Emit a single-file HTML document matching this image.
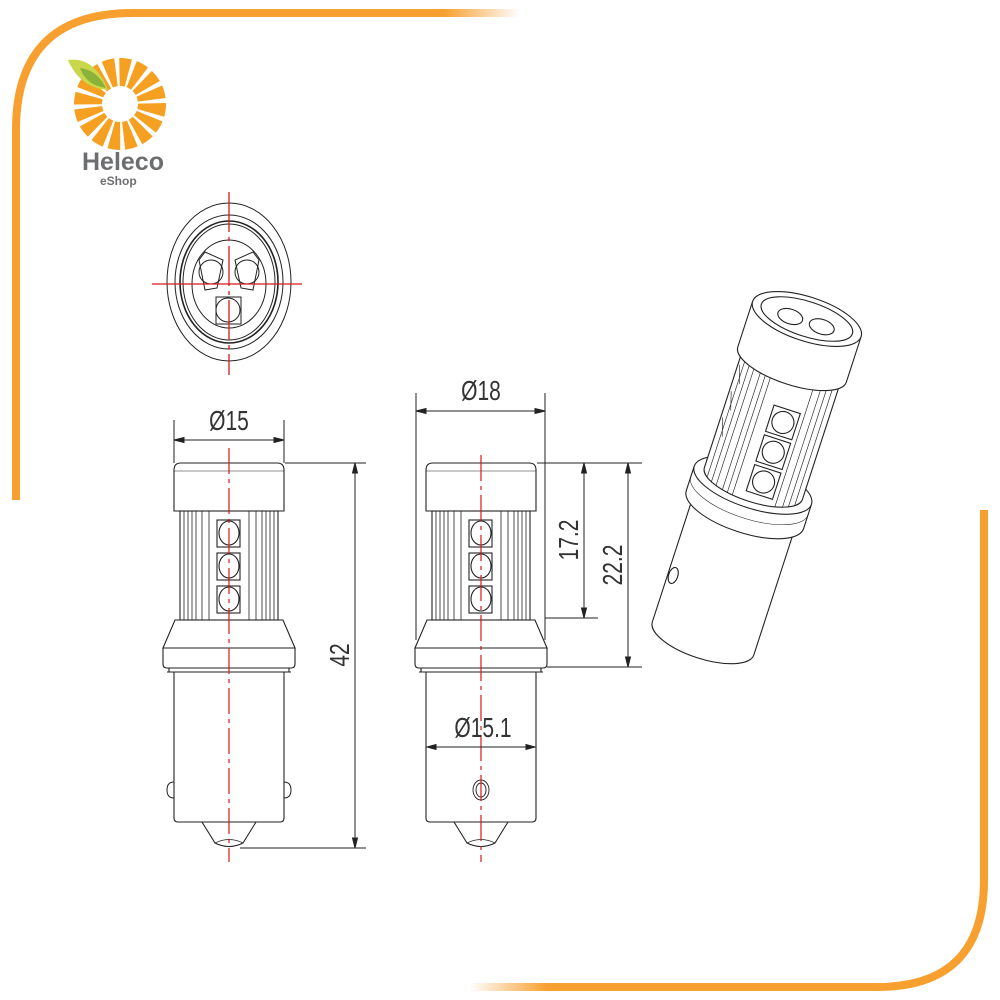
<!DOCTYPE html>
<html><head><meta charset="utf-8"><style>
html,body{margin:0;padding:0;background:#fff}
svg{display:block}
text{font-family:"Liberation Sans",sans-serif}
</style></head><body>
<svg width="1000" height="1000" viewBox="0 0 1000 1000" xmlns="http://www.w3.org/2000/svg">
<defs>
<linearGradient id="ft" x1="0" x2="1"><stop offset="0" stop-color="#f7a030"/><stop offset="0.85" stop-color="#f7a030"/><stop offset="1" stop-color="#f7a030" stop-opacity="0"/></linearGradient>
<linearGradient id="fb" x1="1" x2="0"><stop offset="0" stop-color="#f7a030"/><stop offset="0.85" stop-color="#f7a030"/><stop offset="1" stop-color="#f7a030" stop-opacity="0"/></linearGradient>
<g id="bulb" fill="none" stroke="#222" stroke-width="1.1">
  <path d="M-55,511 L-55,470 Q-55,463 -48,463 L48,463 Q55,463 55,470 L55,511 Z"/>
  <line x1="-55" y1="471" x2="55" y2="471" stroke-width="0.6"/>
  <rect x="-49" y="511" width="98" height="109"/>
  <g stroke-width="0.8">
    <line x1="-45" y1="511" x2="-45" y2="620"/><line x1="-41" y1="511" x2="-41" y2="620"/><line x1="-37" y1="511" x2="-37" y2="620"/><line x1="-33" y1="511" x2="-33" y2="620"/><line x1="-27" y1="511" x2="-27" y2="620"/><line x1="-20" y1="511" x2="-20" y2="620"/>
    <line x1="45" y1="511" x2="45" y2="620"/><line x1="41" y1="511" x2="41" y2="620"/><line x1="37" y1="511" x2="37" y2="620"/><line x1="33" y1="511" x2="33" y2="620"/><line x1="27" y1="511" x2="27" y2="620"/><line x1="20" y1="511" x2="20" y2="620"/>
  </g>
  <rect x="-12" y="520" width="23" height="27"/><ellipse cx="0" cy="533" rx="10" ry="12"/>
  <rect x="-12" y="553" width="23" height="27"/><ellipse cx="0" cy="566" rx="10" ry="12"/>
  <rect x="-12" y="586" width="23" height="27"/><ellipse cx="0" cy="599" rx="10" ry="12"/>
  <path d="M-54,620 L54,620 L66,648 L-66,648 Z"/>
  <path d="M-66,648 L66,648 L66,664 Q66,668 62,668 L-62,668 Q-66,668 -66,664 Z"/>
  <line x1="-60" y1="668" x2="-60" y2="672"/><line x1="60" y1="668" x2="60" y2="672"/>
  <line x1="-62" y1="672" x2="62" y2="672"/>
  <path d="M-55,672 L-55,818 Q-55,822 -51,822 L51,822 Q55,822 55,818 L55,672"/>
  <path d="M-27,822 L-14,843 Q0,850 14,843 L27,822"/>
  <path d="M-14,843 Q0,836 14,843" stroke-width="0.7"/>
</g>
</defs>

<!-- orange frame -->
<path d="M16,500 L16,130 Q16,13 133,13 L520,13" fill="none" stroke="url(#ft)" stroke-width="8"/>
<path d="M984,510 L984,880 Q984,987 877,987 L470,987" fill="none" stroke="url(#fb)" stroke-width="8"/>

<!-- logo -->
<g transform="translate(120,104)">
  <circle r="32" fill="none" stroke="#f5a020" stroke-width="28" stroke-dasharray="9 3.5"/>
  <circle r="17" fill="#fff"/>
</g>
<path d="M68,60 Q94,56 108,90 Q80,88 68,60 Z" fill="#c8d84a"/>
<path d="M80,68 Q97,70 106,88 Q86,85 80,68 Z" fill="#8ab23a"/>
<text x="82" y="170" font-size="25" font-weight="bold" fill="#6d6e70">Heleco</text>
<text x="100" y="185" font-size="12" font-weight="bold" fill="#6d6e70">eShop</text>

<!-- top view -->
<g fill="none" stroke="#222" stroke-width="1">
  <ellipse cx="229" cy="282" rx="62" ry="79"/>
  <ellipse cx="229" cy="282" rx="54" ry="67"/>
  <ellipse cx="229" cy="282" rx="49" ry="61" stroke-width="1.6"/>
  <ellipse cx="229" cy="282" rx="46" ry="58"/>
  <ellipse cx="229" cy="284" rx="37" ry="44"/>
  <path d="M199,260 L205,252 L223,260 L217,288 L205,290 Z"/>
  <circle cx="211" cy="272" r="12"/>
  <path d="M259,260 L253,252 L235,260 L241,288 L253,290 Z"/>
  <circle cx="247" cy="272" r="12"/>
  <rect x="216" y="297" width="25" height="27"/><circle cx="228" cy="310" r="12"/>
</g>
<g stroke="#d81818" stroke-width="1.3">
  <line x1="152" y1="284" x2="302" y2="284"/>
  <line x1="229" y1="192" x2="229" y2="375" stroke-dasharray="40 5 4 5"/>
</g>

<!-- left bulb -->
<use href="#bulb" x="229"/>
<g fill="none" stroke="#222" stroke-width="1">
  <path d="M174,782 Q167,782 167,790 Q167,798 174,798"/>
  <path d="M284,782 Q291,782 291,790 Q291,798 284,798"/>
</g>
<line x1="229" y1="448" x2="229" y2="862" stroke="#d81818" stroke-width="1.2" stroke-dasharray="26 5 4 5"/>
<g stroke="#222" stroke-width="1" fill="#222">
  <line x1="174" y1="420" x2="174" y2="463"/><line x1="284" y1="420" x2="284" y2="463"/>
  <line x1="174" y1="440" x2="284" y2="440"/>
  <path d="M174,440 l10,-2.5 v5 Z M284,440 l-10,-2.5 v5 Z"/>
  <line x1="285" y1="463" x2="366" y2="463"/><line x1="240" y1="848" x2="366" y2="848"/>
  <line x1="355" y1="463" x2="355" y2="848"/>
  <path d="M355,463 l-2.5,10 h5 Z M355,848 l-2.5,-10 h5 Z"/>
</g>
<text transform="translate(229,430) scale(0.75,1)" text-anchor="middle" font-size="28" fill="#333">Ø15</text>
<text transform="translate(349,655) rotate(-90) scale(0.75,1)" text-anchor="middle" font-size="28" fill="#333">42</text>

<!-- middle bulb -->
<use href="#bulb" x="481"/>
<g fill="none" stroke="#222" stroke-width="0.9">
  <ellipse cx="481" cy="790" rx="8" ry="10"/><ellipse cx="481" cy="790" rx="5" ry="7"/>
</g>
<line x1="481" y1="455" x2="481" y2="862" stroke="#d81818" stroke-width="1.2" stroke-dasharray="26 5 4 5"/>
<g stroke="#222" stroke-width="1" fill="#222">
  <line x1="416" y1="393" x2="416" y2="640"/><line x1="545" y1="393" x2="545" y2="640"/>
  <line x1="416" y1="411" x2="545" y2="411"/>
  <path d="M416,411 l10,-2.5 v5 Z M545,411 l-10,-2.5 v5 Z"/>
  <line x1="427" y1="747" x2="535" y2="747"/>
  <path d="M427,747 l9,-2.5 v5 Z M535,747 l-9,-2.5 v5 Z"/>
  <line x1="537" y1="463" x2="642" y2="463"/><line x1="545" y1="618" x2="598" y2="618"/><line x1="547" y1="667" x2="642" y2="667"/>
  <line x1="584" y1="463" x2="584" y2="618"/>
  <path d="M584,463 l-2.5,10 h5 Z M584,618 l-2.5,-10 h5 Z"/>
  <line x1="628" y1="463" x2="628" y2="667"/>
  <path d="M628,463 l-2.5,10 h5 Z M628,667 l-2.5,-10 h5 Z"/>
</g>
<text transform="translate(481,400) scale(0.75,1)" text-anchor="middle" font-size="28" fill="#333">Ø18</text>
<text transform="translate(483,737) scale(0.75,1)" text-anchor="middle" font-size="28" fill="#333">Ø15.1</text>
<text transform="translate(578,540) rotate(-90) scale(0.75,1)" text-anchor="middle" font-size="28" fill="#333">17.2</text>
<text transform="translate(622,565) rotate(-90) scale(0.75,1)" text-anchor="middle" font-size="28" fill="#333">22.2</text>

<!-- isometric bulb -->
<g transform="translate(750,494) rotate(18) scale(0.92)" fill="none" stroke="#222" stroke-width="1.2">
  <path d="M-58,15 L-58,165 A58,22 0 0 0 58,165 L58,15" fill="#fff"/>
  <ellipse cx="-52" cy="110" rx="5" ry="9"/>
  <path d="M-67,-10 L-67,18 A67,25 0 0 0 67,18 L67,-10" fill="#fff"/>
  <ellipse cx="0" cy="-10" rx="67" ry="25" fill="#fff"/>
  <path d="M-67,2 A67,25 0 0 0 67,2" stroke-width="0.6"/>
  <path d="M-56,-148 L-56,-12 A56,20 0 0 0 56,-12 L56,-148 Z" fill="#fff"/>
  <g stroke-width="0.7">
    <line x1="-50" y1="-140" x2="-50" y2="-3"/><line x1="-44" y1="-140" x2="-44" y2="1"/><line x1="-38" y1="-140" x2="-38" y2="3"/>
    <line x1="-30" y1="-140" x2="-30" y2="5"/><line x1="-24" y1="-140" x2="-24" y2="6"/><line x1="-18" y1="-140" x2="-18" y2="7"/>
    <line x1="30" y1="-140" x2="30" y2="5"/><line x1="38" y1="-140" x2="38" y2="3"/><line x1="44" y1="-140" x2="44" y2="1"/><line x1="50" y1="-140" x2="50" y2="-3"/>
    <line x1="-54" y1="-130" x2="-48" y2="-110"/><line x1="-54" y1="-100" x2="-48" y2="-80"/><line x1="-54" y1="-70" x2="-48" y2="-50"/>
  </g>
  <rect x="-5" y="-100" width="30" height="30" fill="#fff"/><circle cx="10" cy="-85" r="12"/>
  <rect x="-5" y="-66" width="30" height="30" fill="#fff"/><circle cx="10" cy="-51" r="12"/>
  <rect x="-5" y="-32" width="30" height="30" fill="#fff"/><circle cx="10" cy="-17" r="12"/>
  <path d="M-62,-200 L-62,-148 A62,22 0 0 0 62,-148 L62,-200" fill="#fff"/>
  <ellipse cx="0" cy="-200" rx="62" ry="24" fill="#fff"/>
  <ellipse cx="0" cy="-200" rx="52" ry="19"/>
  <ellipse cx="-18" cy="-197" rx="14" ry="8"/><ellipse cx="18" cy="-197" rx="14" ry="8"/>
</g>
</svg>
</body></html>
